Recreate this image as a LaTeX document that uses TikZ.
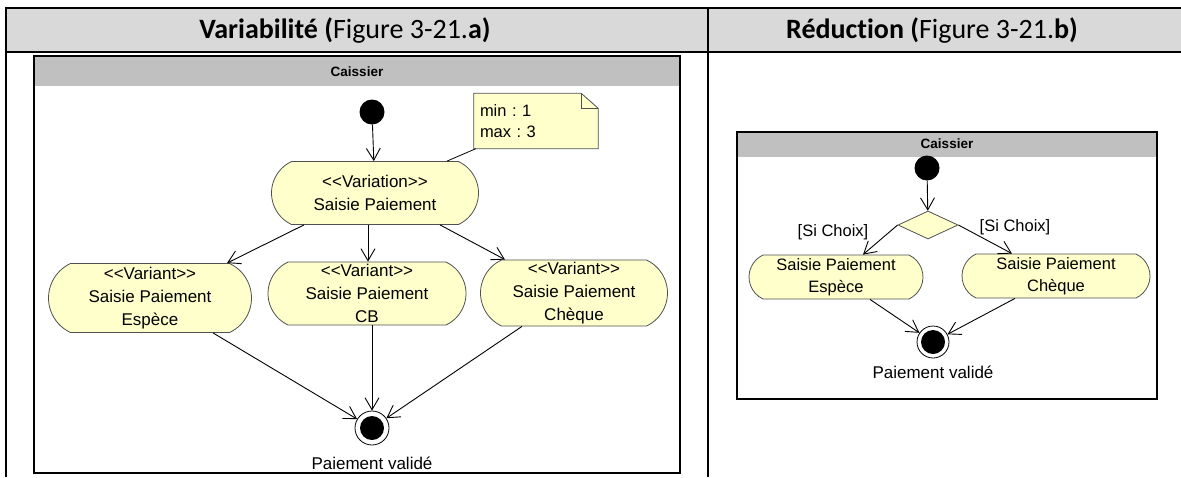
\documentclass[tikz,border=0pt]{standalone}
\usepackage{fontspec}
\setmainfont{Liberation Sans}[Ligatures=TeXOff]
\newfontfamily\policeTitre{Carlito}[Ligatures=NoCommon]
\usepackage{tikz}
\usetikzlibrary{arrows.meta, positioning, shapes.geometric, shapes.misc, backgrounds}
\definecolor{grisEntete}{HTML}{D9D9D9}
\definecolor{grisCouloir}{HTML}{C0C0C0}
\definecolor{jauneActivite}{HTML}{FFFFCC}
\definecolor{bordActivite}{HTML}{505050}
\tikzset{
  boiteActivite/.style={
    rounded rectangle, rounded rectangle arc length=130,
    draw=bordActivite, line width=0.8pt, fill=jauneActivite,
    inner sep=0pt, align=center,
    font=\fontsize{17}{23}\selectfont
  },
  boiteActiviteR/.style={boiteActivite, font=\fontsize{16.5}{22}\selectfont},
  noeudInitial/.style={circle, fill=black, minimum size=25pt, inner sep=0pt},
  noeudFinal/.style={circle, draw=black, line width=0.8pt, fill=white,
    minimum size=34pt, inner sep=0pt,
    path picture={\fill[black] (path picture bounding box.center) circle (12pt);}},
  losangeDecision/.style={diamond, draw=bordActivite, line width=0.8pt,
    fill=jauneActivite, minimum width=60pt, minimum height=28pt, inner sep=0pt},
  fleche/.style={-{Straight Barb[length=12pt, width=14pt]}, line width=0.9pt},
  texteNote/.style={align=left, text width=112pt, inner sep=6pt,
    minimum height=55pt, font=\frenchspacing\fontsize{16.5}{21}\selectfont},
  cadreNote/.style={draw=bordActivite, line width=0.8pt, fill=jauneActivite},
  cadreCouloir/.style={draw=black, line width=2.5pt},
  titreCouloir/.style={font=\bfseries\fontsize{13.5}{15}\selectfont},
  etiquetteGarde/.style={font=\fontsize{16.5}{20}\selectfont, inner sep=1pt},
  etiquetteFinal/.style={font=\fontsize{17}{20}\selectfont},
  titreColonne/.style={font=\policeTitre\fontsize{28}{32}\selectfont, anchor=base},
  traitTableau/.style={line width=1.5pt},
}
\begin{document}
\begin{tikzpicture}[x=1pt, y=-1pt]
  \useasboundingbox (0,0) rectangle (1181,477);

  % tableau
  \fill[grisEntete] (6,8) rectangle (1181,52);
  \draw[traitTableau] (1181,8) -- (6,8) -- (6,477);
  \draw[traitTableau] (6,52) -- (1181,52);
  \draw[traitTableau] (708,8) -- (708,477);
  \node[titreColonne] (titreA) at (345,38)
    {\textbf{Variabilité (}Figure 3-21.\textbf{a)}};
  \node[titreColonne] (titreB) at (932,38)
    {\textbf{Réduction (}Figure 3-21.\textbf{b)}};

  % Variabilite
  \fill[grisCouloir] (34,56) rectangle (680,86);
  \draw[cadreCouloir] (34,56) rectangle (680,473);
  \node[titreCouloir] (couloirA) at (357,72) {Caissier};

  \node[noeudInitial] (debutA) at (372,112) {};
  \node[boiteActivite, minimum width=207pt, minimum height=63pt] (variation) at (375,193)
    {<<Variation>>\\Saisie Paiement};
  \node[boiteActivite, minimum width=203pt, minimum height=69pt] (especeA) at (150,298)
    {<<Variant>>\\Saisie Paiement\\Espèce};
  \node[boiteActivite, minimum width=198pt, minimum height=63pt] (cbA) at (367,293.5)
    {<<Variant>>\\Saisie Paiement\\CB};
  \node[boiteActivite, minimum width=187pt, minimum height=66pt] (chequeA) at (574,293)
    {<<Variant>>\\Saisie Paiement\\Chèque};
  \node[noeudFinal] (finA) at (372,428) {};
  \node[etiquetteFinal] (libelleA) at (372,463) {Paiement validé};

  \node[texteNote] (note) at (536,121) {min : 1\\max : 3};
  \begin{scope}[on background layer]
    \filldraw[cadreNote] (note.north west) -- ([xshift=-17pt]note.north east)
      -- ([yshift=-15pt]note.north east) -- (note.south east)
      -- (note.south west) -- cycle;
  \end{scope}
  \draw[cadreNote, fill=none] ([xshift=-17pt]note.north east) |- ([yshift=-15pt]note.north east);
  \draw[line width=0.8pt] ([xshift=2pt]note.south west) -- ([xshift=72pt]variation.north);

  \draw[fleche] (debutA) -- (variation);
  \draw[fleche] ([xshift=-71pt]variation.south) -- ([xshift=77pt]especeA.north);
  \draw[fleche] ([xshift=-7pt]variation.south) -- ([xshift=1pt]cbA.north);
  \draw[fleche] ([xshift=65pt]variation.south) -- ([xshift=-69pt]chequeA.north);
  \draw[fleche] ([xshift=63pt]especeA.south) -- (finA);
  \draw[fleche] ([xshift=5pt]cbA.south) -- (finA);
  \draw[fleche] ([xshift=-52pt]chequeA.south) -- (finA);

  % Reduction
  \fill[grisCouloir] (737,132) rectangle (1157,157);
  \draw[cadreCouloir] (737,132) rectangle (1157,399);
  \node[titreCouloir] (couloirB) at (947,144) {Caissier};

  \node[noeudInitial] (debutB) at (927,168) {};
  \node[losangeDecision] (choix) at (928,225) {};
  \node[boiteActiviteR, minimum width=174pt, minimum height=44pt] (especeB) at (836,277)
    {Saisie Paiement\\Espèce};
  \node[boiteActiviteR, minimum width=188pt, minimum height=44pt] (chequeB) at (1056,276)
    {Saisie Paiement\\Chèque};
  \node[noeudFinal, minimum size=32pt] (finB) at (933,342) {};
  \node[etiquetteFinal] (libelleB) at (933,372) {Paiement validé};

  \draw[fleche] (debutB) -- (choix);
  \draw[fleche] (choix.west) -- ([xshift=27pt]especeB.north);
  \draw[fleche] (choix.east) -- ([xshift=-44pt]chequeB.north);
  \draw[fleche] ([xshift=34pt]especeB.south) -- (finB);
  \draw[fleche] ([xshift=-41pt]chequeB.south) -- (finB);
  \node[etiquetteGarde] (gardeG) at (833,232) {[Si Choix]};
  \node[etiquetteGarde] (gardeD) at (1015,227) {[Si Choix]};
\end{tikzpicture}
\end{document}
